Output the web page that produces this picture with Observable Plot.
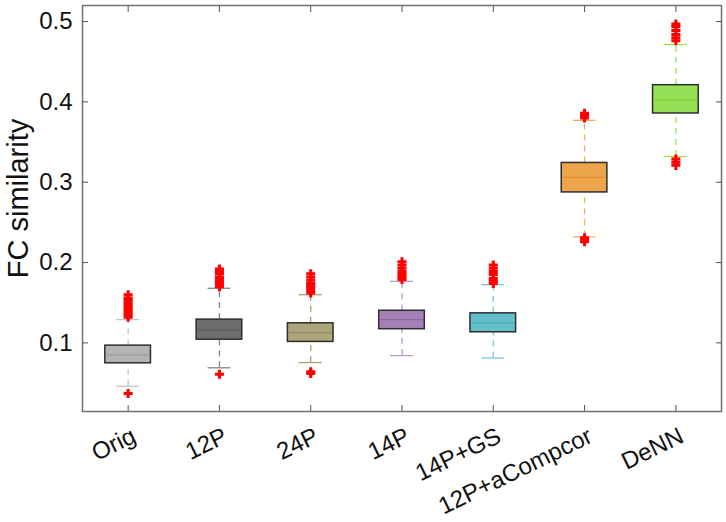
<!DOCTYPE html>
<html><head><meta charset="utf-8">
<script src="https://cdn.jsdelivr.net/npm/d3@7"></script>
<script src="https://cdn.jsdelivr.net/npm/@observablehq/plot@0.6"></script>
<style>body{margin:0;background:#fff}</style>
</head><body><div id="chart"></div>
<script>
const methods = ["Orig", "12P", "24P", "14P", "14P+GS", "12P+aCompcor", "DeNN"];
const q1 =          [0.0746, 0.1040, 0.1012, 0.1170, 0.1132, 0.2873, 0.3856];
const median =      [0.0850, 0.1160, 0.1128, 0.1290, 0.1249, 0.3060, 0.4022];
const q3 =          [0.0966, 0.1290, 0.1244, 0.1400, 0.1368, 0.3240, 0.4208];
const whiskerLow =  [0.0460, 0.0690, 0.0755, 0.0842, 0.0813, 0.2320, 0.3320];
const whiskerHigh = [0.1290, 0.1680, 0.1600, 0.1766, 0.1725, 0.3770, 0.4714];
const outliersHigh = [
  [0.132, 0.135, 0.138, 0.141, 0.144, 0.147, 0.150, 0.153, 0.156, 0.160],
  [0.170, 0.173, 0.176, 0.179, 0.182, 0.186, 0.189, 0.192],
  [0.162, 0.165, 0.168, 0.171, 0.174, 0.178, 0.182, 0.186],
  [0.179, 0.182, 0.185, 0.189, 0.193, 0.197, 0.201],
  [0.174, 0.177, 0.180, 0.185, 0.189, 0.193, 0.197],
  [0.380, 0.383, 0.386],
  [0.476, 0.480, 0.484, 0.489, 0.494, 0.497]
];
const outliersLow = [
  [0.037],
  [0.061],
  [0.062, 0.064],
  [],
  [],
  [0.226, 0.229, 0.231],
  [0.321, 0.325, 0.329]
];
const fillColors =    ["#b4b4b4", "#6e6e6e", "#aca57c", "#a57fb8", "#63bfcb", "#eca54a", "#94e157"];
const medianColors =  ["#9c9c9c", "#5a5a5a", "#958d62", "#8e66a3", "#4aaab8", "#e08f2c", "#7fd23e"];
const whiskerColors = ["#c4c4c4", "#858585", "#a89f72", "#b99ad0", "#79c8d6", "#f0b060", "#90e850"];
const yTicks = [0.1, 0.2, 0.3, 0.4, 0.5];
const yLabel = "FC similarity";

const positions = methods.map((m, i) => i + 1);
const boxes = methods.map((m, i) => ({
  pos: i + 1, q1: q1[i], med: median[i], q3: q3[i], lo: whiskerLow[i], hi: whiskerHigh[i],
  fill: fillColors[i], mc: medianColors[i], wc: whiskerColors[i]
}));
const outliers = methods.flatMap((m, i) =>
  [...outliersHigh[i], ...outliersLow[i]].map(v => ({pos: i + 1, v})));

const halfBox = 0.25, halfCap = 0.125;

const chart = Plot.plot({
  width: 726, height: 522,
  marginLeft: 82, marginRight: 5, marginTop: 5, marginBottom: 111,
  x: {domain: [0.5, 7.5]},
  y: {domain: [0.0146, 0.52]},
  color: {type: "identity"},
  style: {fontFamily: "'Liberation Sans', Arial, sans-serif", fontSize: "24px", background: "#fff", color: "#111"},
  marks: [
    Plot.ruleX(boxes, {x: "pos", y1: "q3", y2: "hi", stroke: d => d.wc, strokeDasharray: "6,5", strokeWidth: 1.3}),
    Plot.ruleX(boxes, {x: "pos", y1: "lo", y2: "q1", stroke: d => d.wc, strokeDasharray: "6,5", strokeWidth: 1.3}),
    Plot.ruleY(boxes, {y: "hi", x1: d => d.pos - halfCap, x2: d => d.pos + halfCap, stroke: d => d.wc, strokeWidth: 1.3}),
    Plot.ruleY(boxes, {y: "lo", x1: d => d.pos - halfCap, x2: d => d.pos + halfCap, stroke: d => d.wc, strokeWidth: 1.3}),
    Plot.rect(boxes, {x1: d => d.pos - halfBox, x2: d => d.pos + halfBox, y1: "q1", y2: "q3", fill: d => d.fill, stroke: "#2e2e2e", strokeWidth: 1.5}),
    Plot.ruleY(boxes, {y: "med", x1: d => d.pos - halfBox, x2: d => d.pos + halfBox, stroke: d => d.mc, strokeWidth: 1.3, insetLeft: 1.5, insetRight: 1.5}),
    Plot.dot(outliers, {x: "pos", y: "v", symbol: "cross", r: 3.8, fill: "#ff0000", stroke: null}),
    Plot.frame({stroke: "#707070", strokeWidth: 1.5}),
    Plot.axisY(yTicks, {anchor: "left", tickSize: -6, fill: "none", stroke: "#555", label: null}),
    Plot.axisY(yTicks, {anchor: "right", tickSize: -6, fill: "none", stroke: "#555", label: null}),
    Plot.axisY(yTicks, {anchor: "left", tickSize: 0, tickPadding: 10, tickFormat: d => d.toFixed(1), label: null, fontSize: 24}),
    Plot.axisX(positions, {anchor: "bottom", tickSize: -6, fill: "none", stroke: "#555", label: null}),
    Plot.axisX(positions, {anchor: "top", tickSize: -6, fill: "none", stroke: "#555", label: null}),
    Plot.axisX(positions, {anchor: "bottom", tickSize: 0, tickPadding: 23, tickRotate: -26, tickFormat: p => methods[p - 1], label: null, fontSize: 24, dx: 6}),
    Plot.text([yLabel], {text: d => d, frameAnchor: "left", textAnchor: "middle", rotate: -90, dx: -64, dy: -10, fontSize: 29, fill: "#111"})
  ]
});
document.getElementById("chart").append(chart);
</script>
</body></html>
